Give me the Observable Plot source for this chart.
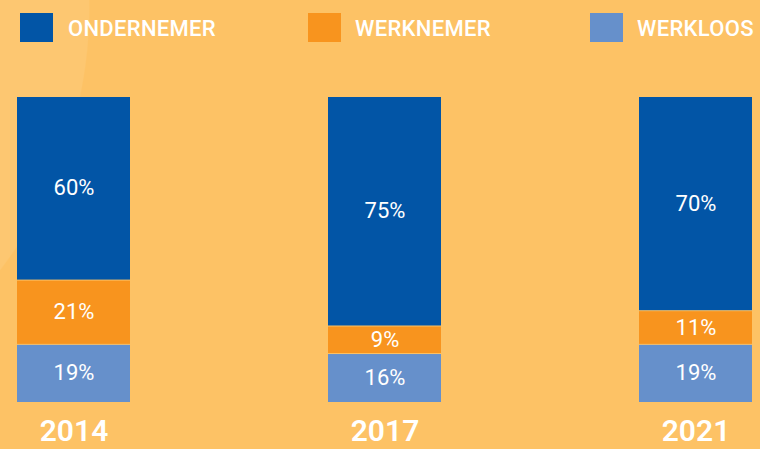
<!DOCTYPE html>
<html>
<head>
<meta charset="utf-8">
<script src="https://cdn.jsdelivr.net/npm/d3@7"></script>
<script src="https://cdn.jsdelivr.net/npm/@observablehq/plot@0.6"></script>
<style>
  html, body { margin: 0; padding: 0; }
  #wrap {
    position: relative; width: 760px; height: 449px; overflow: hidden;
    background: radial-gradient(circle 433px at -343px 7px, #fdc771 99.7%, #fdc265 100%);
    font-family: Roboto, "Noto Sans", sans-serif;
  }
  #chart { position: absolute; left: 0; top: 0; }
  .sw { position: absolute; top: 13px; width: 33px; height: 29px; }
  .lab { position: absolute; top: 15.5px; font-size: 22px; font-weight: 500; letter-spacing: 0.3px; color: #fff; line-height: normal; white-space: nowrap; }
</style>
</head>
<body>
<div id="wrap"><div id="chart"></div></div>
<script>
const years = ["2014", "2017", "2021"];
const categories = ["WERKLOOS", "WERKNEMER", "ONDERNEMER"]; // bottom to top
const colors = ["#6690cb", "#f8941e", "#0255a6"];
const werkloos = [19, 16, 19];
const werknemer = [21, 9, 11];
const ondernemer = [60, 75, 70];

const series = [werkloos, werknemer, ondernemer];
const data = [];
years.forEach((y, i) => {
  categories.forEach((c, j) => data.push({year: y, cat: c, value: series[j][i]}));
});

const chart = Plot.plot({
  width: 760,
  height: 449,
  marginTop: 96,
  marginBottom: 47,
  marginLeft: 0,
  marginRight: 0,
  style: {background: "transparent", fontFamily: "Roboto, 'Noto Sans', sans-serif"},
  x: {type: "band", domain: years, range: [16, 752], paddingInner: 0.637, paddingOuter: 0},
  y: {domain: [0, 100], axis: null},
  color: {domain: categories, range: colors},
  marks: [
    Plot.barY(data, {x: "year", y: "value", fill: "cat", insetTop: 1}),
    Plot.text(data, Plot.stackY({x: "year", y: "value", text: d => d.value + "%", fill: "white", fontSize: 22, fontWeight: 400})),
    Plot.axisX({tickSize: 0, tickPadding: 17.5, fontSize: 30, fontWeight: 600, fill: "white", label: null})
  ]
});
document.getElementById("chart").appendChild(chart);

// legend
const legendOrder = ["ONDERNEMER", "WERKNEMER", "WERKLOOS"];
const swatchX = [20, 308, 590];
const labelX = [68, 355, 637];
const wrap = document.getElementById("wrap");
legendOrder.forEach((c, i) => {
  const sw = document.createElement("div");
  sw.className = "sw";
  sw.style.left = swatchX[i] + "px";
  sw.style.background = colors[categories.indexOf(c)];
  wrap.appendChild(sw);
  const lb = document.createElement("div");
  lb.className = "lab";
  lb.style.left = labelX[i] + "px";
  lb.textContent = c;
  wrap.appendChild(lb);
});
</script>
</body>
</html>
